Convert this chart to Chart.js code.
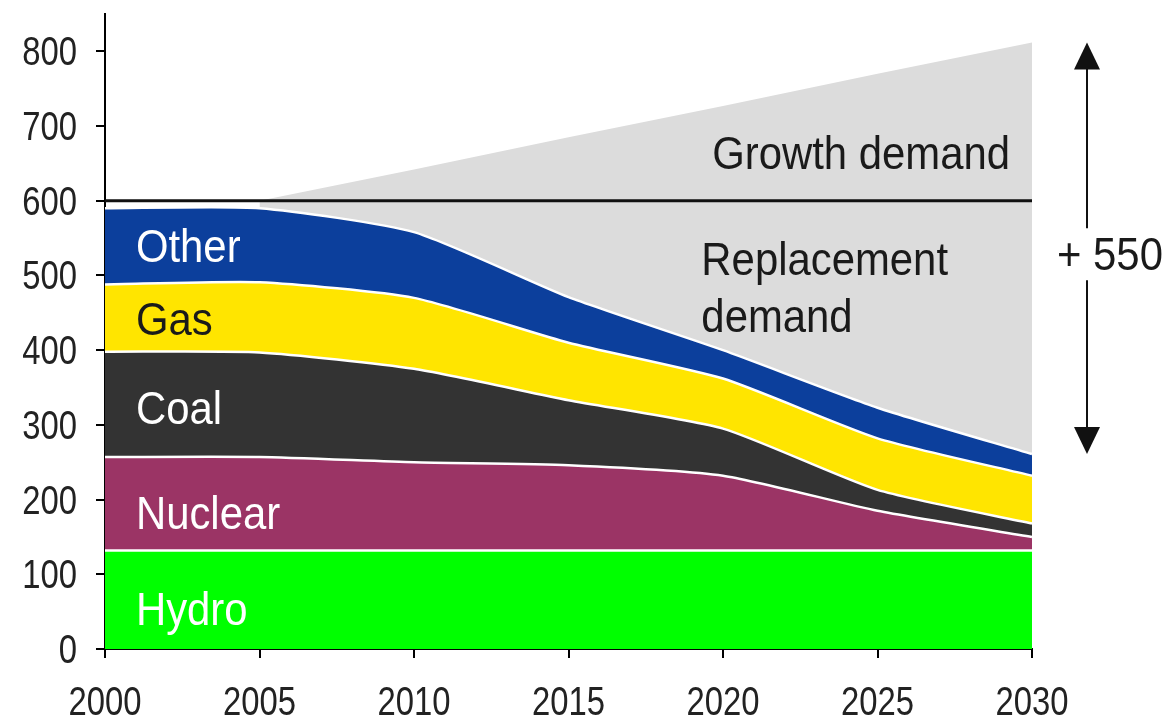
<!DOCTYPE html>
<html>
<head>
<meta charset="utf-8">
<script src="https://cdn.jsdelivr.net/npm/chart.js@4.4.1/dist/chart.umd.min.js"></script>
<style>
    html, body { margin: 0; padding: 0; background: #fff; }
</style>
</head>
<body>
<canvas id="chart" width="1166" height="723"></canvas>
<script>
'use strict'

// capacity still standing (GW), stacked from the bottom
const years = ['2000', '2005', '2010', '2015', '2020', '2025', '2030']
const hydro = [132, 132, 132, 132, 132, 132, 132]
const nuclear = [125, 125, 118, 114, 100, 53, 18]
const coal = [141, 140, 125, 87, 63, 28, 18]
const gas = [90, 94, 95, 77, 67, 69, 64]
const other = [102, 99, 88, 61, 38, 41, 29]
// gap up to today's level, and new demand above it
const replacement = [null, 10, 42, 129, 200, 277, 339]
const growth = [null, 0, 42, 85, 127, 170, 212]
const todayLevel = [600, 600, 600, 600, 600, 600, 600]
const yTicks = [0, 100, 200, 300, 400, 500, 600, 700, 800]

const area = (label, data, color, fill) => ({
    label: label,
    data: data,
    backgroundColor: color,
    borderColor: '#fff',
    borderWidth: 2.5,
    fill: fill || '-1',
    pointRadius: 0,
    tension: 0.2
})

// the picture's type is squeezed sideways, so scale it on x
function drawText(ctx, text, x, y, color, opts) {
    opts = opts || {}
    ctx.save()
    ctx.translate(x, y)
    ctx.scale(opts.sx || 0.91, 1)
    ctx.font = (opts.size || 46) + 'px "Liberation Sans", Arial, sans-serif'
    ctx.fillStyle = color
    ctx.textAlign = opts.align || 'left'
    ctx.textBaseline = 'alphabetic'
    ctx.fillText(text, 0, 0)
    ctx.restore()
}

function arrowHead(ctx, x, tipY, dir) {
    ctx.beginPath()
    ctx.moveTo(x, tipY)
    ctx.lineTo(x - 13, tipY + dir * 27)
    ctx.lineTo(x + 13, tipY + dir * 27)
    ctx.closePath()
    ctx.fill()
}

const notesPlugin = {
    id: 'notes',
    afterDraw(chart) {
        const ctx = chart.ctx
        const xs = chart.scales.x
        const ys = chart.scales.y
        const names = chart.data.datasets
        const light = '#fff'
        const dark = '#1a1a1a'
        const tick = { size: 40, sx: 0.82 }

        // axis labels
        ys.ticks.forEach(t => {
            drawText(ctx, String(t.value), xs.left - 28, ys.getPixelForValue(t.value) + 14, '#222', Object.assign({ align: 'right' }, tick))
        })
        xs.ticks.forEach((t, i) => {
            drawText(ctx, years[t.value], xs.getPixelForValue(t.value), xs.top + 66, '#222', Object.assign({ align: 'center' }, tick))
        })

        // series names inside their bands
        const lx = xs.getPixelForValue(0.2)
        drawText(ctx, names[4].label, lx, ys.getPixelForValue(518), light)
        drawText(ctx, names[3].label, lx, ys.getPixelForValue(420), dark)
        drawText(ctx, names[2].label, lx, ys.getPixelForValue(301), light)
        drawText(ctx, names[1].label, lx, ys.getPixelForValue(160), light)
        drawText(ctx, names[0].label, lx, ys.getPixelForValue(32), light)

        drawText(ctx, 'Growth demand', xs.getPixelForValue(3.93), ys.getPixelForValue(643), dark)
        drawText(ctx, 'Replacement', xs.getPixelForValue(3.86), ys.getPixelForValue(501), dark)
        drawText(ctx, 'demand', xs.getPixelForValue(3.86), ys.getPixelForValue(424), dark)

        // arrow from remaining capacity up to total demand in 2030
        const last = years.length - 1
        const topY = chart.getDatasetMeta(6).data[last].y
        const botY = chart.getDatasetMeta(4).data[last].y
        const ax = chart.chartArea.right + 55
        const labelY = ys.getPixelForValue(507)

        ctx.save()
        ctx.strokeStyle = '#111'
        ctx.fillStyle = '#111'
        ctx.lineWidth = 2
        ctx.beginPath()
        ctx.moveTo(ax, topY + 20)
        ctx.lineTo(ax, labelY - 42)
        ctx.moveTo(ax, labelY + 10)
        ctx.lineTo(ax, botY - 20)
        ctx.stroke()
        arrowHead(ctx, ax, topY, 1)
        arrowHead(ctx, ax, botY, -1)
        ctx.restore()

        drawText(ctx, '+ 550', ax - 30, labelY, dark)
    }
}

const ctx = document.getElementById('chart')

new Chart(ctx, {
    type: 'line',
    data: {
        labels: years,
        datasets: [
            area('Hydro', hydro, '#00ff00', 'origin'),
            area('Nuclear', nuclear, '#9b3465'),
            area('Coal', coal, '#333333'),
            area('Gas', gas, '#ffe500'),
            area('Other', other, '#0c3f9c'),
            {
                label: 'Replacement demand',
                data: replacement,
                backgroundColor: '#dcdcdc',
                borderWidth: 0,
                fill: '-1',
                pointRadius: 0
            },
            {
                label: 'Growth demand',
                data: growth,
                backgroundColor: '#dcdcdc',
                borderWidth: 0,
                fill: '-1',
                pointRadius: 0
            },
            {
                label: 'Today',
                data: todayLevel,
                stack: 'today',
                borderColor: '#111',
                borderWidth: 3,
                fill: false,
                pointRadius: 0,
                order: -1
            }
        ]
    },
    options: {
        responsive: false,
        animation: false,
        layout: { padding: { left: 0, top: 0, right: 134, bottom: 0 } },
        plugins: {
            legend: { display: false },
            tooltip: { enabled: false }
        },
        scales: {
            x: {
                offset: false,
                grid: { drawOnChartArea: false, drawTicks: true, tickLength: 9, color: '#000', lineWidth: 2 },
                border: { display: true, color: '#000', width: 2 },
                ticks: { display: false, autoSkip: false },
                afterFit: s => { s.height = 74; s.paddingLeft = 0; s.paddingRight = 0 }
            },
            y: {
                stacked: true,
                min: 0,
                max: 850,
                afterBuildTicks: s => { s.ticks = yTicks.map(v => ({ value: v })) },
                grid: { drawOnChartArea: false, drawTicks: true, tickLength: 9, color: '#000', lineWidth: 2 },
                border: { display: true, color: '#000', width: 2 },
                ticks: { display: false },
                afterFit: s => { s.width = 105; s.paddingTop = 14; s.paddingBottom = 0 }
            }
        }
    },
    plugins: [notesPlugin]
})
</script>
</body>
</html>
